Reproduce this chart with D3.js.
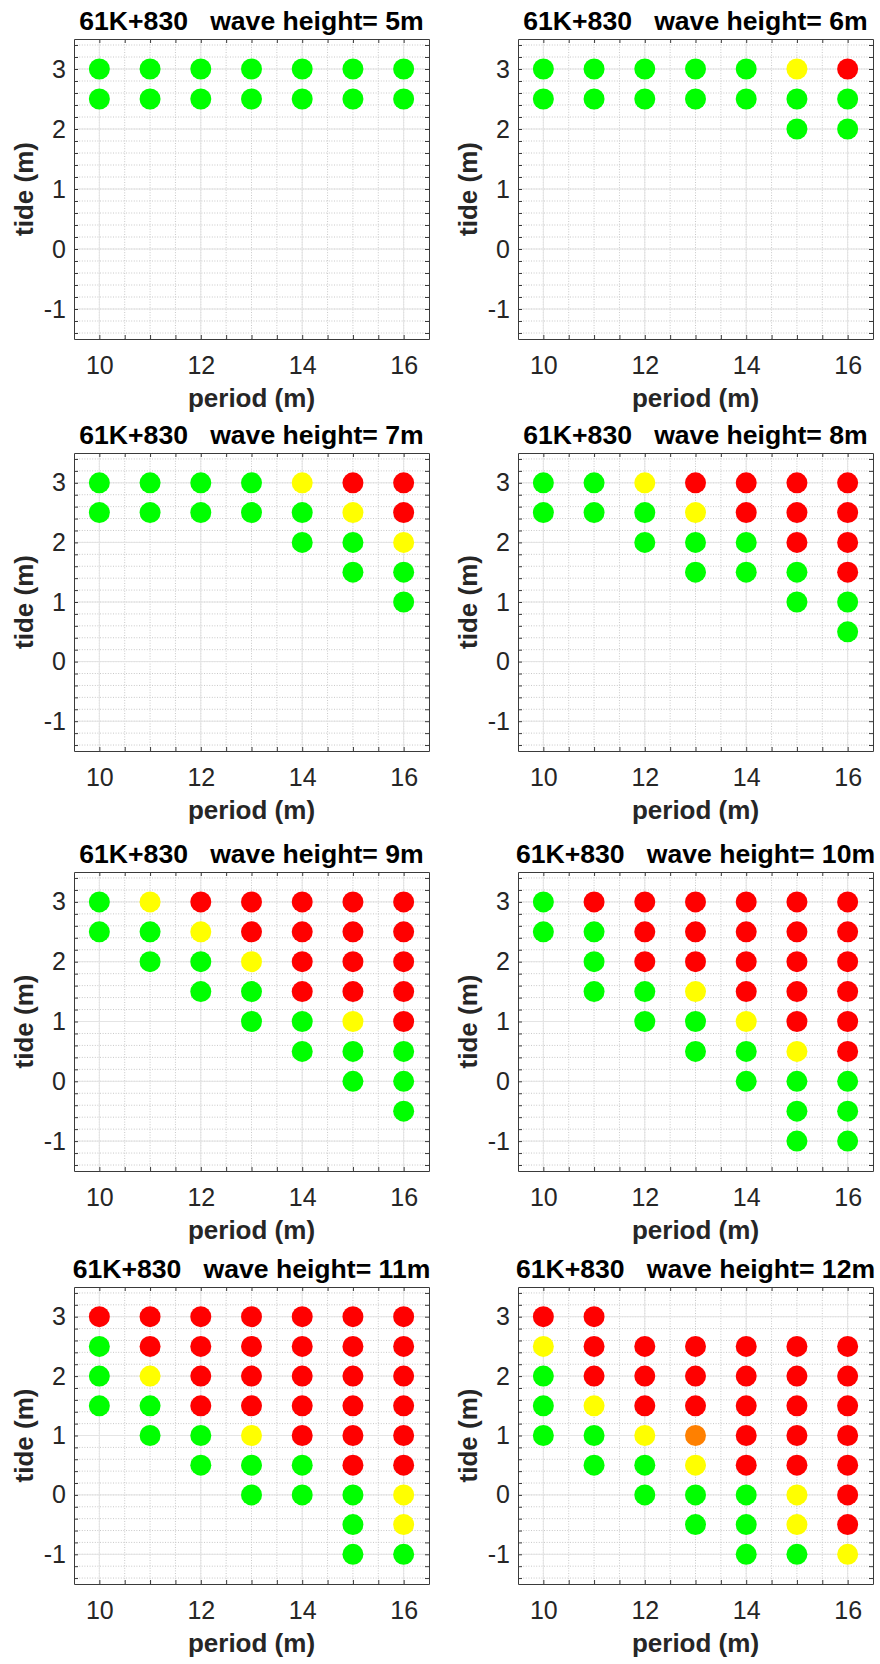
<!DOCTYPE html>
<html>
<head>
<meta charset="utf-8">
<script src="https://cdn.jsdelivr.net/npm/d3@7"></script>
<style>
  html, body { margin: 0; padding: 0; background: #ffffff; }
  svg { display: block; }
</style>
</head>
<body>
<div id="chart"></div>
<script>
// ---------------- DATA ----------------
const siteLabel = "61K+830";
const waveHeights = [5, 6, 7, 8, 9, 10, 11, 12];
const periods = [10, 11, 12, 13, 14, 15, 16];
const tideLevels = [3, 2.5, 2, 1.5, 1, 0.5, 0, -0.5, -1];
const xTickLabels = [10, 12, 14, 16];
const yTickLabels = [-1, 0, 1, 2, 3];

// one string per period; each character corresponds to tideLevels (top to bottom)
// G = green, Y = yellow, O = orange, R = red, . = no point
const status5m  = ["GG.......", "GG.......", "GG.......", "GG.......", "GG.......", "GG.......", "GG......."];
const status6m  = ["GG.......", "GG.......", "GG.......", "GG.......", "GG.......", "YGG......", "RGG......"];
const status7m  = ["GG.......", "GG.......", "GG.......", "GG.......", "YGG......", "RYGG.....", "RRYGG...."];
const status8m  = ["GG.......", "GG.......", "YGG......", "RYGG.....", "RRGG.....", "RRRGG....", "RRRRGG..."];
const status9m  = ["GG.......", "YGG......", "RYGG.....", "RRYGG....", "RRRRGG...", "RRRRYGG..", "RRRRRGGG."];
const status10m = ["GG.......", "RGGG.....", "RRRGG....", "RRRYGG...", "RRRRYGG..", "RRRRRYGGG", "RRRRRRGGG"];
const status11m = ["RGGG.....", "RRYGG....", "RRRRGG...", "RRRRYGG..", "RRRRRGG..", "RRRRRRGGG", "RRRRRRYYG"];
const status12m = ["RYGGG....", "RRRYGG...", ".RRRYGG..", ".RRROYGG.", ".RRRRRGGG", ".RRRRRYYG", ".RRRRRRRY"];
const panelStatus = [status5m, status6m, status7m, status8m, status9m, status10m, status11m, status12m];

const statusColors = { G: "#00ff00", Y: "#ffff00", O: "#ff8000", R: "#ff0000" };

// ---------------- LAYOUT ----------------
const W = 880, H = 1664;
const colX = [74, 518];
const axW = 355;
const rowY = [39, 453, 872, 1287];
const rowH = [300, 298, 299, 297];
const font = "'Liberation Sans', Arial, Helvetica, sans-serif";

const svg = d3.select("#chart").append("svg")
  .attr("width", W).attr("height", H)
  .style("font-family", font);

const xMinor = d3.range(20, 33).map(v => v / 2);          // 10 .. 16 by 0.5
const yMinor = d3.range(-7, 18).map(v => v / 5);          // -1.4 .. 3.4 by 0.2
const plainFormat = d => String(d);

waveHeights.forEach((wh, i) => {
  const col = i % 2, row = Math.floor(i / 2);
  const left = colX[col], top = rowY[row], h = rowH[row], w = axW;

  const x = d3.scaleLinear().domain([9.5, 16.5]).range([0, w]);
  const y = d3.scaleLinear().domain([-1.5, 3.5]).range([h, 0]);

  const g = svg.append("g").attr("transform", `translate(${left},${top})`);

  g.append("rect").attr("width", w).attr("height", h).attr("fill", "#ffffff");

  // minor grid (dotted)
  g.append("g").selectAll("line").data(xMinor).join("line")
    .attr("x1", d => x(d)).attr("x2", d => x(d)).attr("y1", 0).attr("y2", h)
    .attr("stroke", "#c8c8c8").attr("stroke-width", 1).attr("stroke-dasharray", "1,1.6");
  g.append("g").selectAll("line").data(yMinor).join("line")
    .attr("y1", d => y(d)).attr("y2", d => y(d)).attr("x1", 0).attr("x2", w)
    .attr("stroke", "#c8c8c8").attr("stroke-width", 1).attr("stroke-dasharray", "1,1.6");
  // major grid (faint solid)
  g.append("g").selectAll("line").data(xTickLabels).join("line")
    .attr("x1", d => x(d)).attr("x2", d => x(d)).attr("y1", 0).attr("y2", h)
    .attr("stroke", "#e4e4e4").attr("stroke-width", 1);
  g.append("g").selectAll("line").data(yTickLabels).join("line")
    .attr("y1", d => y(d)).attr("y2", d => y(d)).attr("x1", 0).attr("x2", w)
    .attr("stroke", "#e4e4e4").attr("stroke-width", 1);

  // points
  const pts = [];
  panelStatus[i].forEach((s, pi) => {
    s.split("").forEach((c, ti) => {
      if (c !== ".") pts.push({ period: periods[pi], tide: tideLevels[ti], status: c });
    });
  });
  g.append("g").selectAll("circle").data(pts).join("circle")
    .attr("cx", d => x(d.period)).attr("cy", d => y(d.tide))
    .attr("r", 10.5)
    .attr("fill", d => statusColors[d.status]);

  // axes (ticks inward, mirrored)
  const axisColor = "#3a3a3a";
  const styleAxis = sel => {
    sel.select(".domain").attr("stroke", axisColor).attr("stroke-width", 1);
    sel.selectAll(".tick line").attr("stroke", axisColor).attr("stroke-width", 1);
    sel.selectAll("text").attr("fill", "#262626").style("font-size", "25px").style("font-family", font);
  };
  g.append("g").attr("transform", `translate(0,${h})`)
    .call(d3.axisBottom(x).tickValues(xMinor).tickSizeInner(-4).tickSizeOuter(0).tickFormat(""))
    .call(styleAxis);
  g.append("g").attr("transform", `translate(0,${h})`)
    .call(d3.axisBottom(x).tickValues(xTickLabels).tickSizeInner(0).tickSizeOuter(0).tickPadding(17).tickFormat(plainFormat))
    .call(styleAxis).call(s => s.select(".domain").remove());
  g.append("g")
    .call(d3.axisTop(x).tickValues(xMinor).tickSizeInner(-4).tickSizeOuter(0).tickFormat(""))
    .call(styleAxis);
  g.append("g")
    .call(d3.axisLeft(y).tickValues(yMinor).tickSizeInner(-4).tickSizeOuter(0).tickFormat(""))
    .call(styleAxis);
  g.append("g")
    .call(d3.axisLeft(y).tickValues(yTickLabels).tickSizeInner(0).tickSizeOuter(0).tickPadding(8).tickFormat(plainFormat))
    .call(styleAxis).call(s => s.select(".domain").remove());
  g.append("g").attr("transform", `translate(${w},0)`)
    .call(d3.axisRight(y).tickValues(yMinor).tickSizeInner(-4).tickSizeOuter(0).tickFormat(""))
    .call(styleAxis);

  // title
  g.append("text")
    .attr("x", w / 2).attr("y", -9)
    .attr("text-anchor", "middle")
    .style("white-space", "pre")
    .attr("xml:space", "preserve")
    .style("font-size", "26.6px").style("font-weight", "bold").attr("fill", "#000")
    .text(`${siteLabel}   wave height= ${wh}m`);

  // x label
  g.append("text")
    .attr("x", w / 2).attr("y", h + 68)
    .attr("text-anchor", "middle")
    .style("font-size", "26px").style("font-weight", "bold").attr("fill", "#262626")
    .text("period (m)");

  // y label
  g.append("text")
    .attr("transform", `translate(${-41},${h / 2}) rotate(-90)`)
    .attr("text-anchor", "middle")
    .style("font-size", "26px").style("font-weight", "bold").attr("fill", "#262626")
    .text("tide (m)");
});
</script>
</body>
</html>
